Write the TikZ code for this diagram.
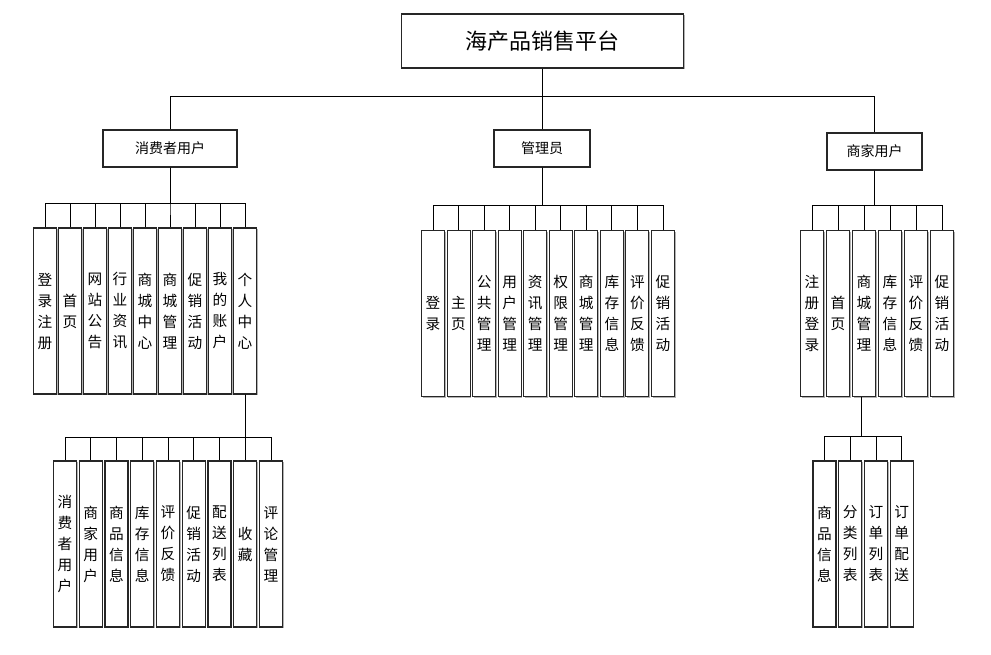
\documentclass[tikz,border=0pt]{standalone}
\usepackage{fontspec}
\newfontfamily\cjkfont{Noto Sans CJK SC}
\usetikzlibrary{positioning,shadows}
\tikzset{
  box/.style={rectangle, draw=black!85, line width=0.8pt, fill=white,
              drop shadow={shadow xshift=0.9pt, shadow yshift=-0.9pt,
                           fill=black!30, opacity=1},
              inner sep=0pt, align=center, text=black},
  rootbox/.style={box, minimum width=212pt, minimum height=40.5pt,
                  font=\cjkfont\fontsize{16.5pt}{18pt}\selectfont},
  rolebox/.style={box, minimum width=#1, minimum height=27.75pt,
                  font=\cjkfont\fontsize{10.5pt}{12pt}\selectfont},
  leaf/.style={box, minimum width=17.25pt, minimum height=124.5pt,
               font=\cjkfont\fontsize{11pt}{15.75pt}\selectfont},
  link/.style={draw=black, line width=0.6pt},
}
\begin{document}
\begin{tikzpicture}[x=0.75pt, y=-0.75pt]
  \useasboundingbox (0,0) rectangle (991,654);

  % Root
  \node[rootbox] (root) at (542.5,41) {海产品销售平台};

  % Roles
  \node[rolebox=100.5pt] (cons) at (170,148.5) {消费者用户};
  \node[rolebox=72pt]    (adm)  at (542,148.5) {管理员};
  \node[rolebox=71.25pt] (merc) at (874.5,151.5) {商家用户};

  \foreach \r in {cons,adm,merc}
    \draw[link] (root.south) -- ++(0,28) -| (\r.north);

  % Consumer modules
  \foreach \t [count=\i] in {{登\\录\\注\\册},{首\\页},{网\\站\\公\\告},{行\\业\\资\\讯},
      {商\\城\\中\\心},{商\\城\\管\\理},{促\\销\\活\\动},{我\\的\\账\\户},{个\\人\\中\\心}} {
    \node[leaf] (c\i) at ({45+25*(\i-1)},311) {\t};
    \draw[link] (cons.south) -- ++(0,36) -| (c\i.north);
  }

  % Administrator modules
  \foreach \t [count=\i] in {{登\\录},{主\\页},{公\\共\\管\\理},{用\\户\\管\\理},{资\\讯\\管\\理},
      {权\\限\\管\\理},{商\\城\\管\\理},{库\\存\\信\\息},{评\\价\\反\\馈},{促\\销\\活\\动}} {
    \node[leaf] (a\i) at ({433+25.55*(\i-1)},313.5) {\t};
    \draw[link] (adm.south) -- ++(0,38) -| (a\i.north);
  }

  % Merchant modules
  \foreach \t [count=\i] in {{注\\册\\登\\录},{首\\页},{商\\城\\管\\理},{库\\存\\信\\息},
      {评\\价\\反\\馈},{促\\销\\活\\动}} {
    \node[leaf] (m\i) at ({812+26*(\i-1)},313.5) {\t};
    \draw[link] (merc.south) -- ++(0,35) -| (m\i.north);
  }

  % Personal center sub-modules
  \foreach \t [count=\i] in {{消\\费\\者\\用\\户},{商\\家\\用\\户},{商\\品\\信\\息},{库\\存\\信\\息},
      {评\\价\\反\\馈},{促\\销\\活\\动},{配\\送\\列\\表},{收\\藏},{评\\论\\管\\理}} {
    \node[leaf] (p\i) at ({65+25.75*(\i-1)},544) {\t};
    \draw[link] (c9.south) -- ++(0,43) -| (p\i.north);
  }

  % Mall management sub-modules
  \foreach \t [count=\i] in {{商\\品\\信\\息},{分\\类\\列\\表},{订\\单\\列\\表},{订\\单\\配\\送}} {
    \node[leaf] (q\i) at ({824.5+25.7*(\i-1)},544) {\t};
    \draw[link] ([xshift=-2pt]m3.south) -- ++(0,39) -| (q\i.north);
  }
\end{tikzpicture}
\end{document}
